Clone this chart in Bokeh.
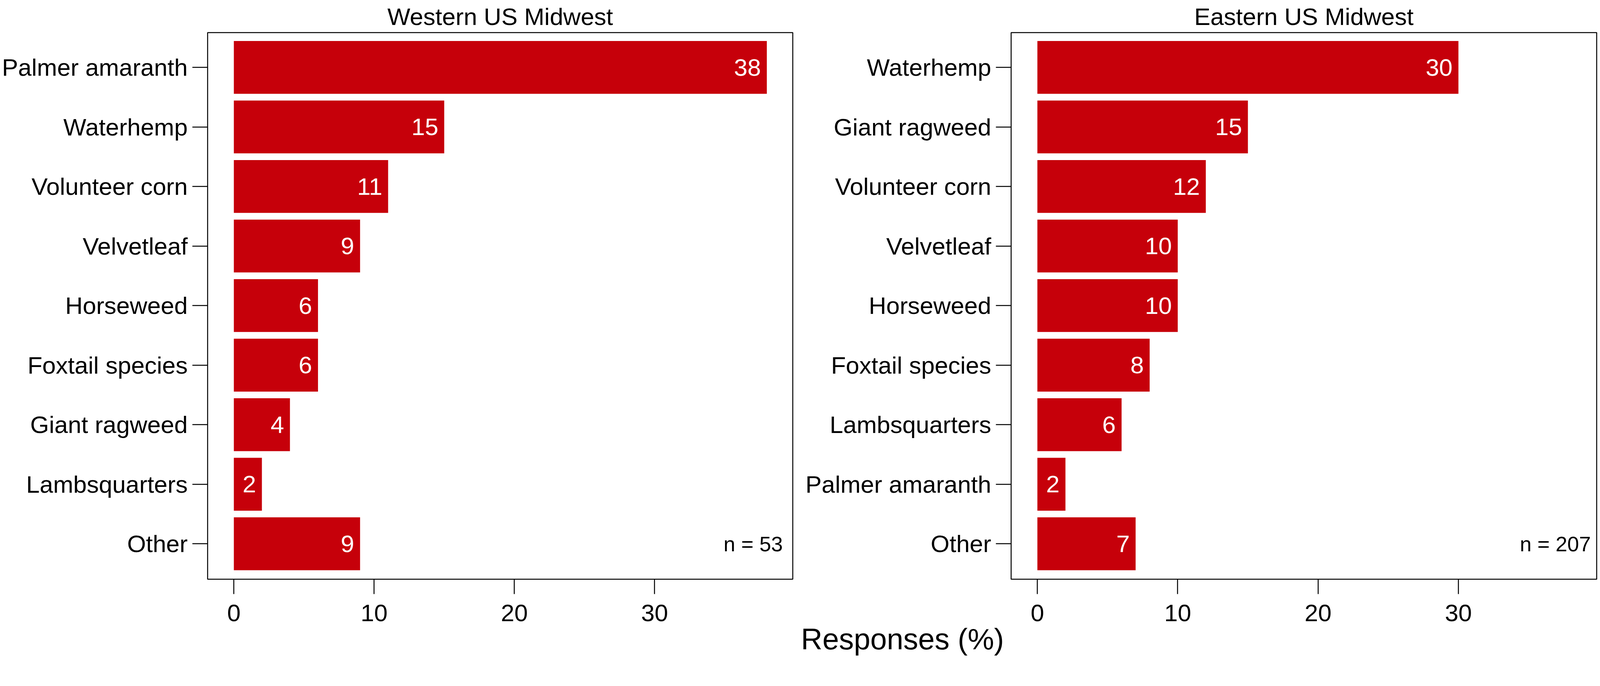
import numpy as np
from bokeh.plotting import figure
from bokeh.models import Range1d, FixedTicker, Title
from bokeh.layouts import row
from bokeh.core.properties import value
from bokeh.embed import file_html
from bokeh.resources import INLINE

# ---- data ----
west_title = "Western US Midwest"
west_weeds = ["Palmer amaranth", "Waterhemp", "Volunteer corn", "Velvetleaf",
              "Horseweed", "Foxtail species", "Giant ragweed", "Lambsquarters", "Other"]
west_pct = [38, 15, 11, 9, 6, 6, 4, 2, 9]
west_n = "n = 53"

east_title = "Eastern US Midwest"
east_weeds = ["Waterhemp", "Giant ragweed", "Volunteer corn", "Velvetleaf",
              "Horseweed", "Foxtail species", "Lambsquarters", "Palmer amaranth", "Other"]
east_pct = [30, 15, 12, 10, 10, 8, 6, 2, 7]
east_n = "n = 207"

x_ticks = [0, 10, 20, 30]
x_label = "Responses (%)"

FONT = "Liberation Sans"
RED = "#C6000A"
TOTAL_H = 1683
MB_TOP = 83
FRAME_H = 1400
MB_BOTTOM = TOTAL_H - MB_TOP - FRAME_H


def panel(title, weeds, pct, ntext, nx, width, mb_left, mb_right):
    idx = list(range(len(weeds)))
    p = figure(width=width, height=TOTAL_H,
               x_range=Range1d(-1.87, 39.85),
               y_range=Range1d(len(weeds) - 1 + 0.595, -0.585),
               output_backend="svg", toolbar_location=None,
               min_border_left=mb_left, min_border_right=mb_right,
               min_border_top=MB_TOP, min_border_bottom=MB_BOTTOM)
    p.background_fill_color = "white"
    p.border_fill_color = "white"
    p.outline_line_color = "black"
    p.outline_line_width = 2.5
    p.xgrid.visible = False
    p.ygrid.visible = False

    p.title.text = title
    p.title.align = "center"
    p.title.vertical_align = "top"
    p.title.standoff = 10
    p.title.text_font = FONT
    p.title.text_font_size = "62px"
    p.title.text_font_style = "normal"
    p.title.text_color = "black"

    p.hbar(y=idx, left=0, right=pct, height=0.887, fill_color=RED, line_color=None)
    p.text(x=pct, y=idx, text=[str(v) for v in pct], text_color="white",
           text_align="right", text_baseline="middle", x_offset=-15,
           text_font=value(FONT), text_font_size="62px")
    p.text(x=[nx], y=[len(weeds) - 1], text=[ntext], text_color="black",
           text_align="right", text_baseline="middle",
           text_font=value(FONT), text_font_size="54px")

    xa = p.xaxis[0]
    xa.ticker = FixedTicker(ticks=x_ticks)
    xa.axis_line_color = None
    xa.major_tick_out = 38
    xa.major_tick_in = 0
    xa.major_tick_line_width = 2.5
    xa.minor_tick_line_color = None
    xa.major_label_text_font = FONT
    xa.major_label_text_font_size = "62px"
    xa.major_label_text_color = "black"
    xa.major_label_standoff = 27

    ya = p.yaxis[0]
    ya.ticker = FixedTicker(ticks=idx)
    ya.major_label_overrides = {i: w for i, w in zip(idx, weeds)}
    ya.axis_line_color = None
    ya.major_tick_out = 39
    ya.major_tick_in = 0
    ya.major_tick_line_width = 2.5
    ya.minor_tick_line_color = None
    ya.major_label_text_font = FONT
    ya.major_label_text_font_size = "62px"
    ya.major_label_text_color = "black"
    ya.major_label_standoff = 12
    return p


p1 = panel(west_title, west_weeds, west_pct, west_n, 39.14, 2034, 531, 5)
p2 = panel(east_title, east_weeds, east_pct, east_n, 39.43, 2060, 554, 7)

# shared x-axis title, centred between the two panels
p2.add_layout(Title(text=x_label, align="left", offset=-538, vertical_align="top",
                    standoff=0, text_font=FONT, text_font_size="76px",
                    text_font_style="normal", text_color="black"), "below")

layout = row(p1, p2)
open("out.html", "w").write(file_html(layout, INLINE))
